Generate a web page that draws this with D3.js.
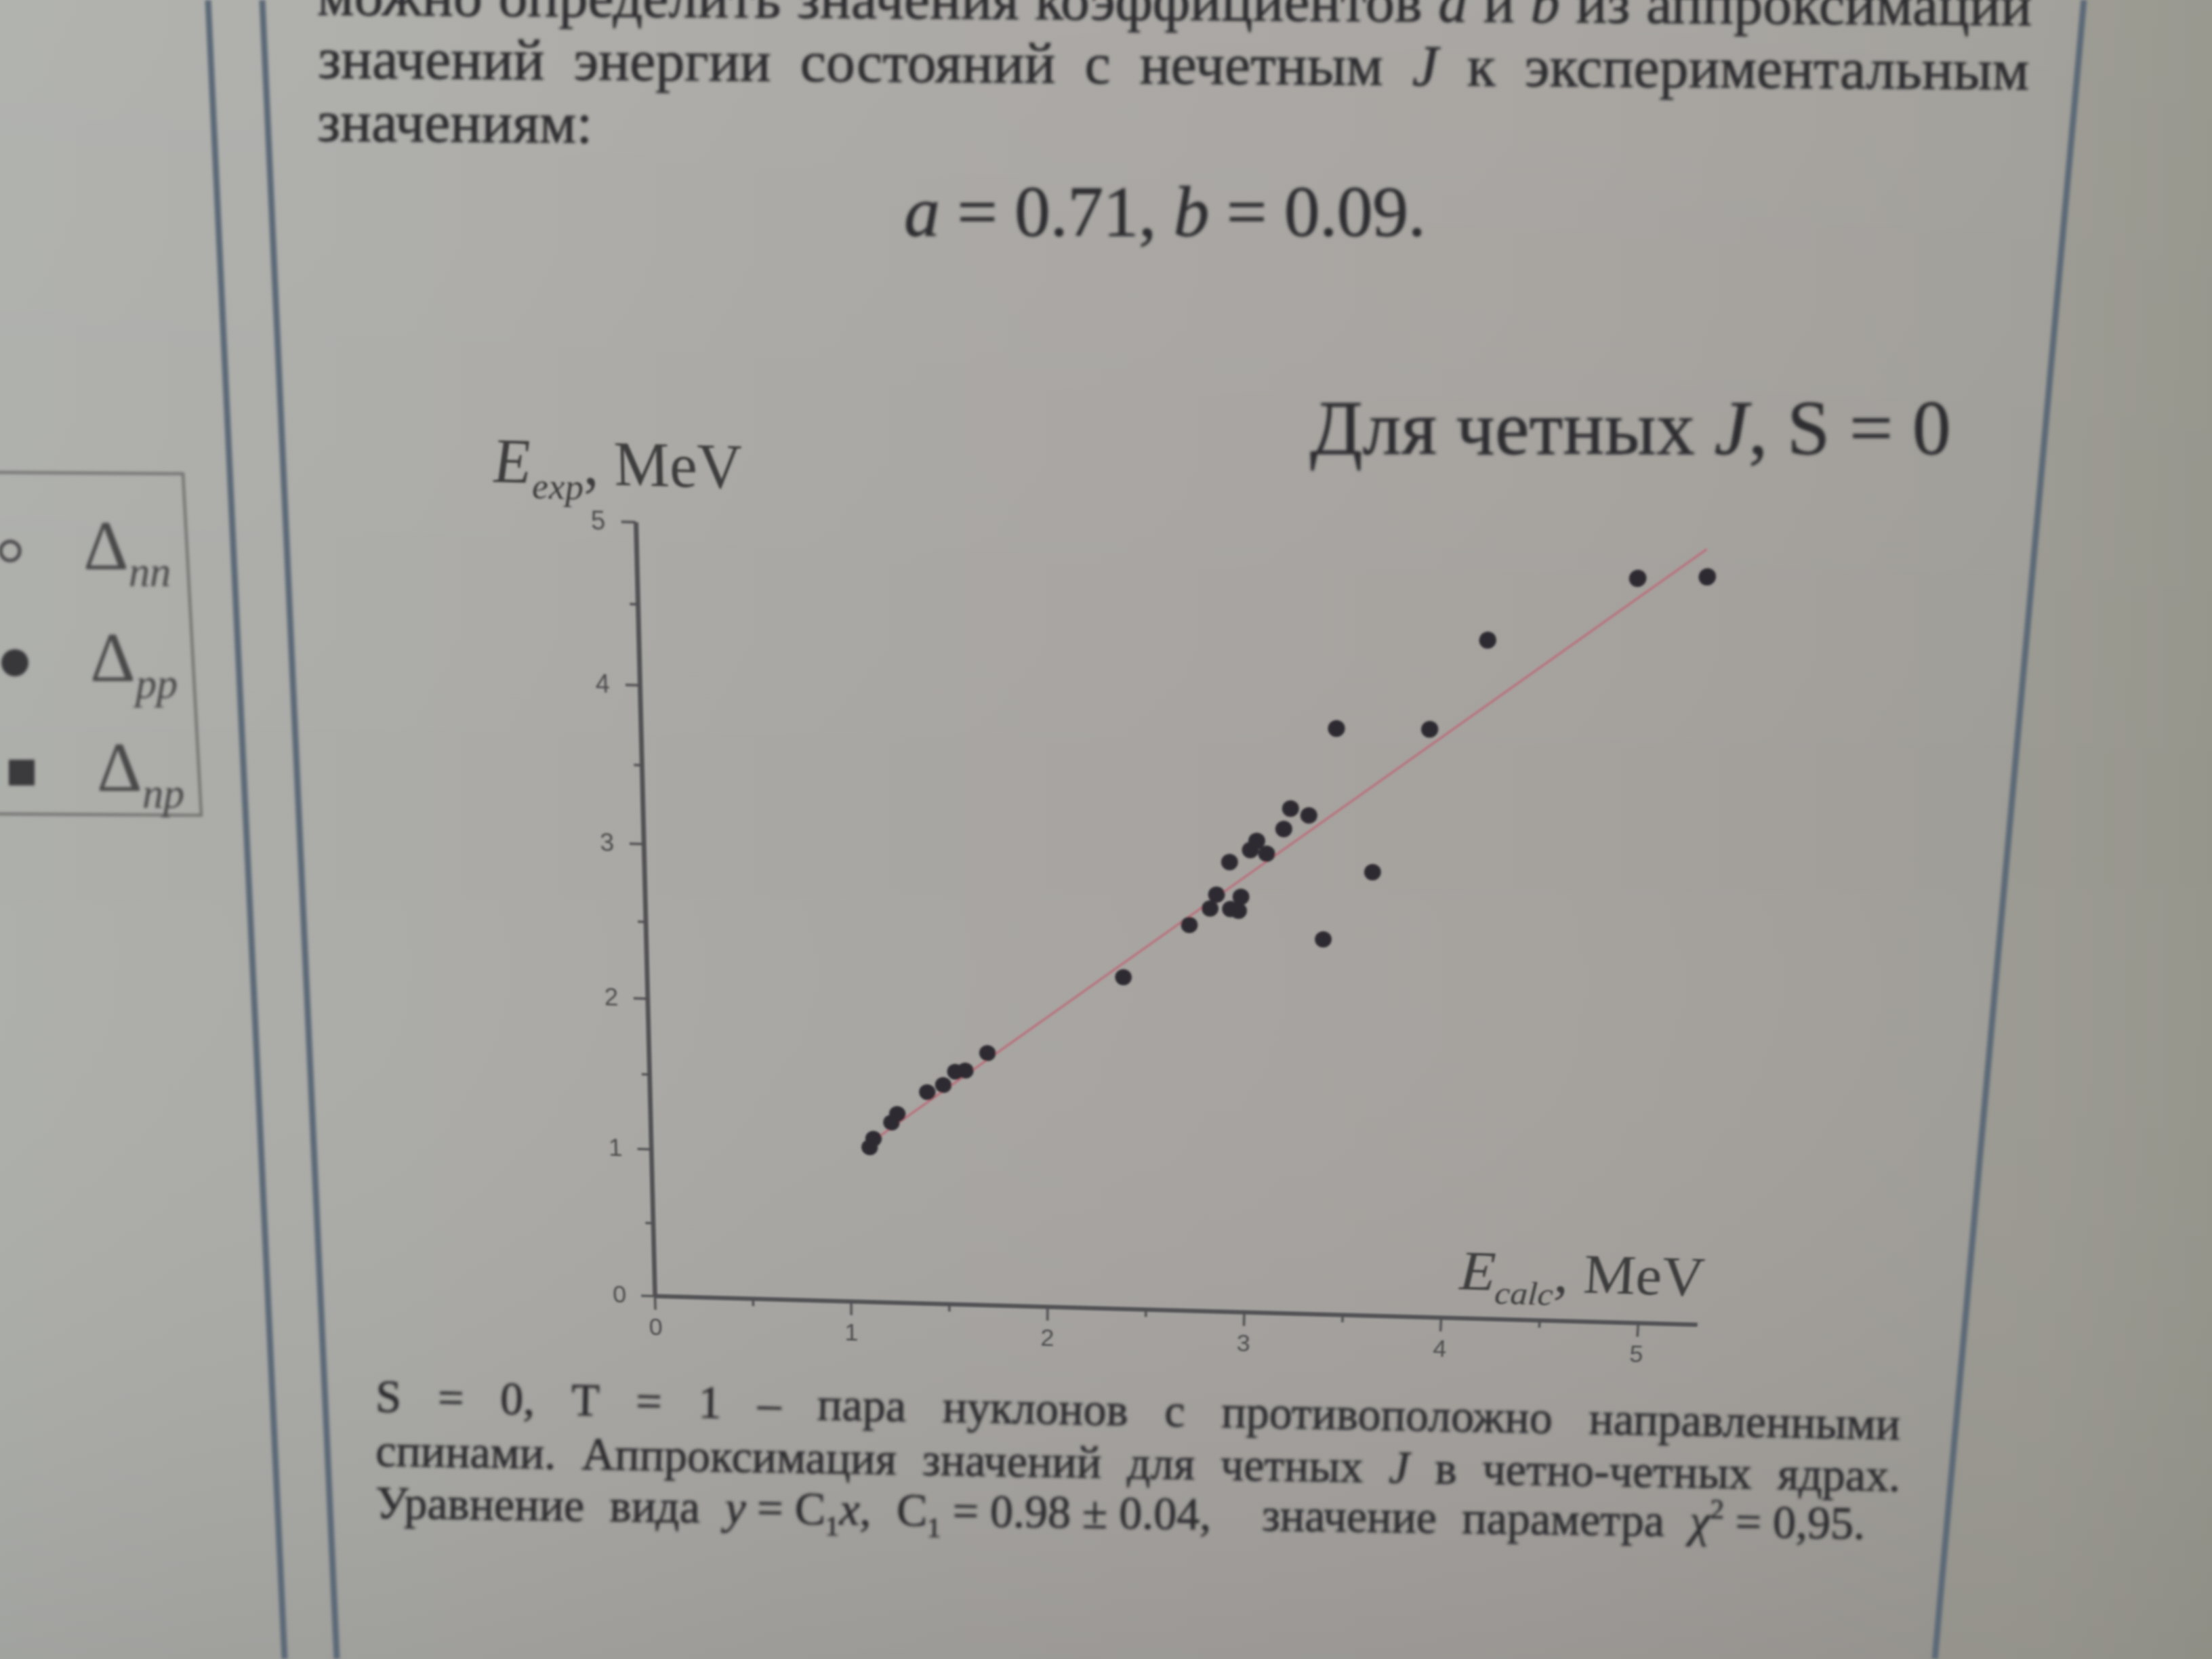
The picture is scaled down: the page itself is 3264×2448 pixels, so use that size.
<!DOCTYPE html>
<html>
<head>
<meta charset="utf-8">
<script src="https://cdn.jsdelivr.net/npm/d3@7"></script>
<style>
html,body{margin:0;padding:0;width:3264px;height:2448px;overflow:hidden;background:#a8a6a1;}
svg{position:absolute;left:0;top:0;overflow:visible;}
#chart{transform-origin:0 0;}
</style>
</head>
<body>
<svg id="page" width="3264" height="2448"></svg>
<svg id="chart" width="2000" height="1500"></svg>
<script>
// ---------------- DATA ----------------
const xCalc = [1.10,1.12,1.21,1.24,1.39,1.47,1.53,1.58,1.69,2.36,2.68,2.78,2.88,2.92,2.81,2.93,2.87,2.97,3.00,3.05,3.13,3.16,3.25,3.34,3.57,3.37,3.82,4.08,4.78,5.11];
const yExp  = [1.05,1.11,1.22,1.28,1.43,1.48,1.57,1.58,1.70,2.22,2.57,2.68,2.68,2.67,2.77,2.76,2.98,3.06,3.12,3.04,3.20,3.33,3.29,2.50,2.94,3.84,3.85,4.41,4.81,4.83];
const xTicks = [0,1,2,3,4,5];
const yTicks = [0,1,2,3,4,5];
const xMinor = [0.5,1.5,2.5,3.5,4.5];
const yMinor = [0.5,1.5,2.5,3.5,4.5];
const C1 = 0.98;
const fitRange = [1.08, 5.1];
const chartTitle = [["Для четных "],["J","i"],[", S = 0"]];
const yLabel = [["E","i"],["exp","subi"],[", MeV"]];
const xLabel = [["E","i"],["calc","subi"],[", MeV"]];
const legendItems = [["nn","circle-open"],["pp","circle"],["np","square"]];

const topLine0 = ["можно","определить","значения","коэффициентов",[["a","i"]],"и",[["b","i"]],"из","аппроксимации"];
const topLine1 = ["значений","энергии","состояний","с","нечетным",[["J","i"]],"к","экспериментальным"];
const topLine2 = ["значениям:"];
const formula = [["a","i"],[" = 0.71, "],["b","i"],[" = 0.09."]];
const capLine0 = ["S","=","0,","T","=","1","–","пара","нуклонов","с","противоположно","направленными"];
const capLine1 = ["спинами.","Аппроксимация","значений","для","четных",[["J","i"]],"в","четно-четных","ядрах."];
const capLine2 = ["Уравнение","вида",[["y","i"],[" = C"],["1","sub"],["x","i"],[","]],[["C"],["1","sub"],[" = 0.98 ± 0.04,"]],"","значение","параметра",[["χ","i"],["2","sup"],[" = 0,95."]]];

const SERIF = "'Liberation Serif','DejaVu Serif',serif";
const SANS = "'Liberation Sans',Arial,sans-serif";
const INK = "#2f2f31";

// ---------------- helpers ----------------
function buildSegs(textSel, segs, size){
  let shift = 0;
  segs.forEach(s=>{
    const seg = (typeof s === 'string') ? [s,'n'] : s;
    const t = seg[0], st = seg[1] || 'n';
    const ts = textSel.append('tspan').text(t);
    let target = 0, fs = size;
    if (st.startsWith('sub')) { target = size*0.24; fs = size*0.6; }
    if (st.startsWith('sup')) { target = -size*0.4; fs = size*0.6; }
    ts.attr('font-size', fs).attr('dy', target - shift);
    if (st === 'i' || st.endsWith('i')) ts.attr('font-style','italic');
    shift = target;
  });
}
function textLine(parent, words, x0, x1, y, size, angle, justify){
  const g = parent.append('g').attr('transform', `rotate(${angle},${x0},${y})`);
  const nodes = words.map(w=>{
    const segs = (typeof w === 'string') ? [[w,'n']] : w;
    const t = g.append('text').attr('y', y).attr('font-family', SERIF).attr('font-size', size)
      .attr('fill', INK).attr('stroke', INK).attr('stroke-width', 0.9);
    buildSegs(t, segs, size);
    return t;
  });
  const widths = nodes.map(n=>n.node().getComputedTextLength());
  const total = d3.sum(widths);
  const gap = (justify && nodes.length>1) ? (x1 - x0 - total)/(nodes.length-1) : size*0.25;
  let x = x0;
  nodes.forEach((n,i)=>{ n.attr('x', x); x += widths[i] + gap; });
}
function homography(src, dst){
  const A = [], b = [];
  for (let i=0;i<4;i++){
    const [x,y] = src[i], [X,Y] = dst[i];
    A.push([x,y,1,0,0,0,-X*x,-X*y]); b.push(X);
    A.push([0,0,0,x,y,1,-Y*x,-Y*y]); b.push(Y);
  }
  const n = 8;
  for (let c=0;c<n;c++){
    let p = c;
    for (let r=c+1;r<n;r++) if (Math.abs(A[r][c])>Math.abs(A[p][c])) p=r;
    [A[c],A[p]] = [A[p],A[c]]; [b[c],b[p]] = [b[p],b[c]];
    for (let r=0;r<n;r++){
      if (r===c) continue;
      const f = A[r][c]/A[c][c];
      for (let k=c;k<n;k++) A[r][k] -= f*A[c][k];
      b[r] -= f*b[c];
    }
  }
  return b.map((v,i)=>v/A[i][i]);
}

// ---------------- PAGE LAYER ----------------
const page = d3.select('#page');
const defs = page.append('defs');
const gH = defs.append('linearGradient').attr('id','bgH').attr('x1',0).attr('x2',1).attr('y1',0).attr('y2',0);
[[0,'#adafab'],[0.35,'#a9a7a3'],[0.7,'#a5a29e'],[0.92,'#9f9d97'],[1,'#97968e']].forEach(s=>gH.append('stop').attr('offset',s[0]).attr('stop-color',s[1]));
const gV = defs.append('linearGradient').attr('id','bgV').attr('x1',0).attr('x2',0).attr('y1',0).attr('y2',1);
[[0,'#ffffff',0.05],[0.5,'#ffffff',0],[1,'#000000',0.07]].forEach(s=>gV.append('stop').attr('offset',s[0]).attr('stop-color',s[1]).attr('stop-opacity',s[2]));
const blur = defs.append('filter').attr('id','blur').attr('x','-5%').attr('y','-5%').attr('width','110%').attr('height','110%');
blur.append('feGaussianBlur').attr('stdDeviation',1.9);

page.append('rect').attr('x',0).attr('y',0).attr('width',3264).attr('height',2448).attr('fill','url(#bgH)');
page.append('rect').attr('x',0).attr('y',0).attr('width',3264).attr('height',2448).attr('fill','url(#bgV)');
page.append('polygon').attr('points','3075,0 3264,0 3264,2448 2855,2448').attr('fill','#959489').attr('opacity',0.35);

const content = page.append('g').attr('filter','url(#blur)');
// page frame lines
[[307,0,420,2448],[387,0,497,2448],[3075,0,2855,2448]].forEach(l=>{
  content.append('line').attr('x1',l[0]).attr('y1',l[1]).attr('x2',l[2]).attr('y2',l[3])
    .attr('stroke','#5b6977').attr('stroke-width',9);
});
// legend box (partially visible)
content.append('polygon').attr('points','-20,697 270,699 297,1203 -20,1201')
  .attr('fill','none').attr('stroke','#6f706d').attr('stroke-width',4);
const legY = [840,1005,1167], legX = [123,133,143], mk = [[15,813],[22,978],[32,1140]];
legendItems.forEach((d,i)=>{
  const [mx,my] = mk[i];
  if (d[1]==='circle-open') content.append('circle').attr('cx',mx).attr('cy',my).attr('r',14).attr('fill','none').attr('stroke','#454547').attr('stroke-width',5);
  else if (d[1]==='circle') content.append('circle').attr('cx',mx).attr('cy',my).attr('r',20).attr('fill','#38383b');
  else content.append('rect').attr('x',mx-19).attr('y',my-19).attr('width',38).attr('height',38).attr('fill','#3b3b3e');
  const t = content.append('text').attr('x',legX[i]).attr('y',legY[i]).attr('font-family',SERIF).attr('fill','#48484a');
  buildSegs(t, [["Δ","n"],[d[0],"subi"]], 104);
});

// top text
textLine(content, topLine0, 468, 2998, 22, 86, 0.35, true);
textLine(content, topLine1, 469, 2994, 115, 86, 0.39, true);
textLine(content, topLine2, 468, 900, 208, 86, 0.39, false);
{
  const t = content.append('text').attr('x',1334).attr('y',348).attr('font-family',SERIF).attr('fill',INK)
    .attr('stroke',INK).attr('stroke-width',0.8).attr('textLength',770).attr('lengthAdjust','spacing');
  buildSegs(t, formula, 106);
}
// chart title
{
  const t = content.append('text').attr('x',1933).attr('y',670).attr('font-family',SERIF).attr('fill',INK)
    .attr('stroke',INK).attr('stroke-width',0.8);
  buildSegs(t, chartTitle, 114);
}
// caption
textLine(content, capLine0, 554, 2804, 2083, 68, 1.05, true);
textLine(content, capLine1, 554, 2804, 2163, 68, 0.95, true);
textLine(content, capLine2, 554, 2752, 2240, 68, 0.8, true);

// ---------------- CHART LAYER ----------------
const chartSvg = d3.select('#chart');
const cdefs = chartSvg.append('defs');
cdefs.append('filter').attr('id','cblur').attr('x','-5%').attr('y','-5%').attr('width','110%').attr('height','110%')
  .append('feGaussianBlur').attr('stdDeviation',1.7);
const chart = chartSvg.append('g').attr('filter','url(#cblur)');

const ox = 260, oy = 1300;
const xS = d3.scaleLinear().domain([0,5.3]).range([ox, ox+5.3*290]);
const yS = d3.scaleLinear().domain([0,5]).range([oy, oy-1140]);

// perspective of the photograph: map chart frame corners to where they appear
const src = [[xS(0),yS(0)],[xS(5),yS(0)],[xS(0),yS(5)],[xS(5),yS(5)]];
const dst = [[966,1912],[2417,1952],[938,770],[2488,809]];
const h = homography(src, dst);
d3.select('#chart').style('transform',
  `matrix3d(${h[0]},${h[3]},0,${h[6]},${h[1]},${h[4]},0,${h[7]},0,0,1,0,${h[2]},${h[5]},0,1)`);

const AX = '#505052';
function styleAxis(g, sw){
  g.select('.domain').attr('stroke',AX).attr('stroke-width',sw);
  g.selectAll('.tick line').attr('stroke',AX).attr('stroke-width',3.5);
  g.selectAll('.tick text').attr('font-family',SANS).attr('font-size',36).attr('fill','#4c4c4e');
}
const gxMinor = chart.append('g').attr('transform',`translate(0,${oy})`)
  .call(d3.axisBottom(xS).tickValues(xMinor).tickSize(12).tickSizeOuter(0).tickFormat(''));
gxMinor.select('.domain').remove();
gxMinor.selectAll('.tick line').attr('stroke',AX).attr('stroke-width',3.5);
const gyMinor = chart.append('g').attr('transform',`translate(${ox},0)`)
  .call(d3.axisLeft(yS).tickValues(yMinor).tickSize(11).tickSizeOuter(0).tickFormat(''));
gyMinor.select('.domain').remove();
gyMinor.selectAll('.tick line').attr('stroke',AX).attr('stroke-width',3.5);

const gx = chart.append('g').attr('transform',`translate(0,${oy})`)
  .call(d3.axisBottom(xS).tickValues(xTicks).tickSize(22).tickPadding(14).tickSizeOuter(0).tickFormat(d3.format('d')));
styleAxis(gx, 6.5);
const gy = chart.append('g').attr('transform',`translate(${ox},0)`)
  .call(d3.axisLeft(yS).tickValues(yTicks).tickSize(20).tickPadding(22).tickSizeOuter(0).tickFormat(d3.format('d')));
styleAxis(gy, 6.5);

// axis titles
{
  const t = chart.append('text').attr('x', ox-195).attr('y', yS(5)-50).attr('font-family',SERIF).attr('fill','#3c3c3e');
  buildSegs(t, yLabel, 86);
  const t2 = chart.append('text').attr('x', xS(5.3)+6).attr('y', oy-45).attr('text-anchor','end').attr('font-family',SERIF).attr('fill','#3c3c3e');
  buildSegs(t2, xLabel, 86);
}

// fit line y = C1 x
chart.append('path')
  .datum(fitRange.map(x=>[x, C1*x]))
  .attr('d', d3.line().x(d=>xS(d[0])).y(d=>yS(d[1])))
  .attr('fill','none').attr('stroke','#b8707c').attr('stroke-width',3.2);

// points
chart.append('g').selectAll('circle')
  .data(xCalc.map((x,i)=>({x, y:yExp[i]})))
  .join('circle')
  .attr('cx', d=>xS(d.x)).attr('cy', d=>yS(d.y)).attr('r', 12)
  .attr('fill','#2e2c31');
</script>
</body>
</html>
